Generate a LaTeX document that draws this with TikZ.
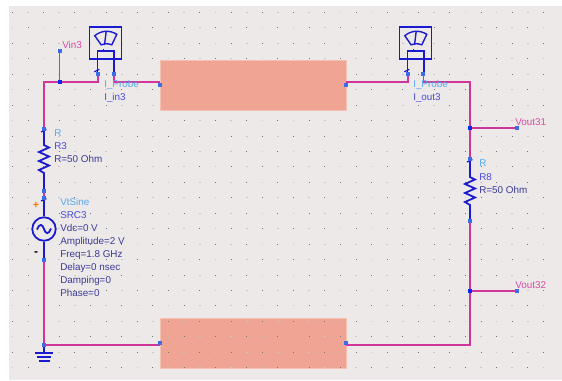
\documentclass[tikz,border=0pt]{standalone}
\usepackage{fontspec}
\setmainfont{Liberation Sans}
\definecolor{bgc}{HTML}{EDE9E8}
\definecolor{wirec}{HTML}{D0359A}
\definecolor{compc}{HTML}{1A1AD0}
\definecolor{termc}{HTML}{3C6CE8}
\definecolor{juncc}{HTML}{0A28F0}
\definecolor{blockc}{HTML}{F0A594}
\definecolor{typec}{HTML}{55A8F0}
\definecolor{namec}{HTML}{4A4AE0}
\definecolor{parc}{HTML}{3A3A98}
\definecolor{pinc}{HTML}{D94AA8}
\tikzset{
  x=0.75pt,y=-0.75pt,
  wire/.style={draw=wirec,line width=1.3pt,line join=miter},
  comp/.style={draw=compc,line width=1.35pt,line join=miter},
  term/.style={inner sep=0pt,minimum size=2.6pt,rectangle},
  block/.style={fill=blockc,draw=blockc!70!white,line width=.6pt,inner sep=0pt,rectangle,anchor=north west},
  lab/.style={anchor=base west,inner sep=0pt,font=\fontsize{7.4pt}{8pt}\selectfont},
  typelab/.style={lab,text=typec},
  namelab/.style={lab,text=namec},
  parlab/.style={lab,text=parc},
  pinlab/.style={lab,text=pinc},
  dotA/.style={fill=black!55},
  dotB/.style={fill=black!22},
  probe/.pic={
    \draw[comp] (-16,-16) rectangle (16,15.5);
    \draw[comp,line width=1.05pt] (-10.6,-7.6) .. controls (-4,-13) and (4,-13.5) .. (11.4,-9)
      -- (6.4,1.5) .. controls (2,0) and (-1,0) .. (-4.3,1.5) -- cycle;
    \draw[comp,line width=1.05pt] (0.8,-12) -- (-0.8,1);
    \draw[comp] (-8,30.7) -- (-8,7.3) -- (8.2,7.3) -- (8.2,30.7);
    \draw[comp,line width=.9pt] (-3,7.3) -- (1,7.3);
    \draw[comp,line width=.9pt] (-2,5.8) -- (-2,8.8);
    \draw[comp,line width=.9pt] (-11,28.5) -- (-6,26);
  }
}
\begin{document}
\begin{tikzpicture}
\useasboundingbox (0,0) rectangle (562,380);
\fill[white] (0,0) rectangle (562,380);
\fill[bgc] (9,6) rectangle (562,380);

% lower block sits beneath the grid
\node[block,minimum width=139.5pt,minimum height=37.5pt] (blockB) at (160,318) {};

% grid
\foreach \i in {0,...,34} \foreach \j in {0,...,23} {
  \pgfmathsetmacro{\px}{12.4+15.62*\i}
  \pgfmathsetmacro{\py}{12.4+15.45*\j}
  \pgfmathtruncatemacro{\alt}{mod(\i+\j,2)}
  \ifnum\alt=0
    \fill[dotA] (\px-.5,\py-.5) rectangle (\px+.5,\py+.5);
  \else
    \fill[dotB] (\px-.8,\py-.5) rectangle (\px+.8,\py+.5);
  \fi
}

% upper block
\node[block,minimum width=139.5pt,minimum height=37.5pt] (blockA) at (160,60) {};

% named connection points
\node[term] (vin) at (59.5,51) {};
\node[term] (jin) at (59.5,82) {};
\coordinate (cTL) at (44,82);
\node[term] (r3t) at (44,129) {};
\node[term] (r3b) at (44,191) {};
\node[term] (srct) at (44,198) {};
\node[term] (srcb) at (44,260) {};
\node[term] (gnd) at (44,345) {};
\node[term] (pl1) at (98,74) {};
\node[term] (pr1) at (114,74) {};
\coordinate (pl1d) at (98,82);
\coordinate (pr1d) at (114,82);
\node[term] (a1) at (160,85) {};
\node[term] (a2) at (346,85) {};
\node[term] (pl2) at (408,74) {};
\node[term] (pr2) at (423.4,74) {};
\coordinate (pl2d) at (408,82);
\coordinate (pr2d) at (423.4,82);
\coordinate (a1w) at (160,82);
\coordinate (a2w) at (346,82);
\coordinate (cTR) at (470,82);
\node[term] (j31) at (470,128) {};
\node[term] (v31) at (516.5,128) {};
\node[term] (r8t) at (470,159) {};
\node[term] (r8b) at (470,221) {};
\node[term] (j32) at (470,291.3) {};
\node[term] (v32) at (516.5,291.3) {};
\coordinate (cBR) at (470,345);
\coordinate (b1w) at (160,345);
\coordinate (b2w) at (346,345);
\node[term] (b1) at (160,343) {};
\node[term] (b2) at (346,343) {};

% wires
\draw[wire] (vin.center) -- (jin.center);
\draw[wire] (r3t.center) -- (cTL) -- (pl1d) -- (pl1.center);
\draw[wire] (pr1.center) -- (pr1d) -- (a1w);
\draw[wire] (a2w) -- (pl2d) -- (pl2.center);
\draw[wire] (pr2.center) -- (pr2d) -- (cTR) -- (r8t.center);
\draw[wire] (j31.center) -- (v31.center);
\draw[wire] (r8b.center) -- (cBR) -- (b2w);
\draw[wire] (j32.center) -- (v32.center);
\draw[wire] (r3b.center) -- (srct.center);
\draw[wire] (srcb.center) -- (gnd.center);
\draw[wire] (gnd.center) -- (b1w);

% resistors
\draw[comp] (r3t.center) -- (44,145) -- (49,147.5) -- (39,152) -- (49,156.5) -- (39,161) -- (49,165.5) -- (39,170) -- (44,173) -- (r3b.center);
\draw[comp] (r8t.center) -- (470,177) -- (475,179.5) -- (465,184) -- (475,188.5) -- (465,193) -- (475,197.5) -- (465,202) -- (470,205) -- (r8b.center);
\draw[comp,line width=.9pt] (41,132) -- (46.5,129.5);
\draw[comp,line width=.9pt] (467,162) -- (472.5,159.5);

% source
\node[draw=compc,line width=1.35pt,circle,minimum size=17.6pt,inner sep=0pt] (src) at (44,229) {};
\draw[comp] (srct.center) -- (src.north);
\draw[comp] (src.south) -- (srcb.center);
\draw[comp] (37,229.5) .. controls (39,223.5) and (42.5,223.5) .. (44,229) .. controls (45.5,234.5) and (49,234.5) .. (51,228.5);
\draw[comp,line width=.9pt] (41,201) -- (46.5,198.5);
\node[inner sep=0pt,font=\fontsize{8pt}{8pt}\selectfont\bfseries,text=orange!90!red] (plus) at (36,205.5) {+};
\node[inner sep=0pt,font=\fontsize{9pt}{9pt}\selectfont\bfseries] (minus) at (36,253.5) {-};

% ground
\draw[comp] (gnd.center) -- (44,353);
\draw[comp] (35,353) -- (53,353);
\draw[comp] (37,357) -- (50.5,357);
\draw[comp] (38.5,360.8) -- (49.5,360.8);

% probes
\pic at (105.4,43.3) {probe};
\pic at (415.4,43.3) {probe};

% terminals above everything
\foreach \t in {vin,r3t,r3b,srct,srcb,gnd,pl1,pr1,a1,a2,pl2,pr2,v31,r8t,r8b,v32,b1,b2} {
  \fill[termc] (\t.south west) rectangle (\t.north east);
}
\foreach \t in {jin,j31,j32} { \fill[juncc] (\t.south west) rectangle (\t.north east); }

% labels
\node[pinlab] (tVin) at (62,48.5) {Vin3};
\node[typelab] (tP1) at (104,87.5) {I\_Probe};
\node[namelab] (tI1) at (104,100) {I\_in3};
\node[typelab] (tR3) at (54,136.5) {R};
\node[namelab] (tN3) at (54,149.5) {R3};
\node[parlab] (tV3) at (54,162.5) {R=50 Ohm};
\node[typelab] (tS) at (60,205.5) {VtSine};
\node[namelab] (tS1) at (60,218.5) {SRC3};
\node[parlab] (tS2) at (60,231.5) {Vdc=0 V};
\node[parlab] (tS3) at (60,244.5) {Amplitude=2 V};
\node[parlab] (tS4) at (60,257.5) {Freq=1.8 GHz};
\node[parlab] (tS5) at (60,270.5) {Delay=0 nsec};
\node[parlab] (tS6) at (60,283.5) {Damping=0};
\node[parlab] (tS7) at (60,296.5) {Phase=0};
\node[typelab] (tP2) at (413,87.5) {I\_Probe};
\node[namelab] (tI2) at (413,100) {I\_out3};
\node[typelab] (tR8) at (479,166.5) {R};
\node[namelab] (tN8) at (479,180) {R8};
\node[parlab] (tV8) at (479,193.5) {R=50 Ohm};
\node[pinlab] (tV31) at (515,125.5) {Vout31};
\node[pinlab] (tV32) at (515,288) {Vout32};
\end{tikzpicture}
\end{document}
